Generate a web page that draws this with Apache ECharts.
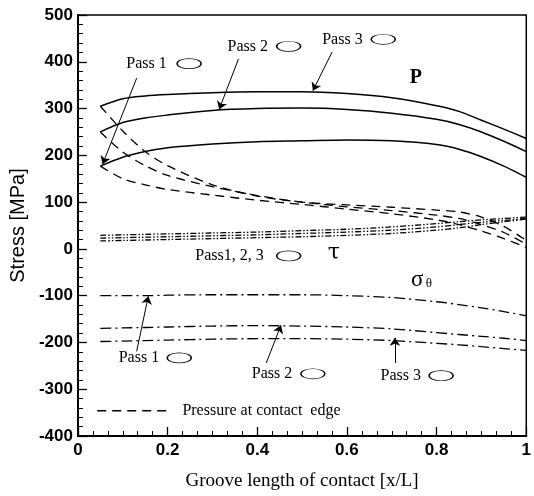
<!DOCTYPE html>
<html>
<head>
<meta charset="utf-8">
<script src="https://cdn.jsdelivr.net/npm/echarts@6/dist/echarts.min.js"></script>
<style>
  html, body { margin: 0; padding: 0; background: #fff; }
  #chart { width: 534px; height: 496px; }
</style>
</head>
<body>
<div id="chart"></div>
<script>
// groove position x/L, shared by every curve
const xPos = [0.05, 0.1, 0.15, 0.2, 0.3, 0.4, 0.5, 0.6, 0.7, 0.8, 0.85, 0.9, 0.95, 1.0]

// contact pressure P (solid)
const pPass1 = [177, 196, 208, 216, 224, 229, 231, 233, 231, 223, 213, 197, 177, 153]
const pPass2 = [250, 270, 280, 286, 296, 300, 301, 298, 290, 277, 266, 250, 230, 208]
const pPass3 = [305, 321, 327, 330, 334, 336, 336, 332, 323, 306, 294, 275, 256, 236]

// pressure at contact edge (dashed)
const edge1 = [177, 150, 137, 127, 115, 104, 95, 85, 75, 62, 52, 38, 22, 3]
const edge2 = [250, 207, 178, 157, 133, 114, 100, 90, 82, 72, 65, 52, 35, 10]
const edge3 = [305, 252, 208, 178, 137, 113, 100, 94, 89, 83, 79, 68, 48, 18]

// shear stress tau (dash-dot-dot)
const tau1 = [17, 18, 19, 20, 22, 24, 26, 29, 33, 40, 45, 52, 58, 64]
const tau2 = [23, 24, 25, 26, 28, 30, 33, 36, 40, 47, 52, 57, 61, 65]
const tau3 = [29, 30, 31, 32, 34, 36, 39, 42, 47, 54, 58, 62, 65, 68]

// hoop stress sigma_theta (dash-dot)
const sig1 = [-100, -100, -100, -99, -98, -98, -98, -100, -104, -113, -119, -126, -134, -143]
const sig2 = [-170, -169, -168, -167, -165, -164, -165, -167, -171, -179, -183, -187, -191, -196]
const sig3 = [-198, -197, -196, -195, -193, -192, -192, -193, -196, -202, -205, -209, -213, -217]

// annotation texts [text, x, y]
const labels = [
  ['Pass 1', 0.153, 396], ['Pass 2', 0.379, 431], ['Pass 3', 0.59, 448],
  ['Pass1, 2, 3', 0.338, -15],
  ['Pass 1', 0.136, -233], ['Pass 2', 0.433, -267], ['Pass 3', 0.72, -271],
]
// little ellipses next to the labels [x, y]
const ovals = [
  [0.248, 396], [0.47, 433], [0.681, 448], [0.47, -15],
  [0.226, -233], [0.524, -267], [0.81, -271],
]
// arrows [x1, y1, x2, y2]
const arrows = [
  [0.131, 365, 0.055, 181],
  [0.358, 406, 0.315, 298],
  [0.567, 421, 0.524, 338],
  [0.131, -219, 0.157, -101],
  [0.42, -244, 0.453, -163],
  [0.707, -244, 0.707, -190],
]

const pair = (ys) => xPos.map((x, i) => [x, ys[i]])
const serif = '"Liberation Serif", "Times New Roman", serif'
const sans = '"Liberation Sans", Arial, sans-serif'

const chart = echarts.init(document.getElementById('chart'))

const mkLine = (name, ys, dash, width) => ({
  name,
  type: 'line',
  data: pair(ys),
  smooth: 0.3,
  showSymbol: false,
  silent: true,
  lineStyle: { color: '#000', width: width || 1.3, type: dash },
})

const series = [
  mkLine('P1', pPass1, 'solid', 1.5),
  mkLine('P2', pPass2, 'solid', 1.5),
  mkLine('P3', pPass3, 'solid', 1.5),
  mkLine('E1', edge1, [9, 6]),
  mkLine('E2', edge2, [9, 6]),
  mkLine('E3', edge3, [9, 6]),
  mkLine('T1', tau1, [6, 2, 1.5, 2, 1.5, 2]),
  mkLine('T2', tau2, [6, 2, 1.5, 2, 1.5, 2]),
  mkLine('T3', tau3, [6, 2, 1.5, 2, 1.5, 2]),
  mkLine('S1', sig1, [11, 4, 2, 4]),
  mkLine('S2', sig2, [11, 4, 2, 4]),
  mkLine('S3', sig3, [11, 4, 2, 4]),
]

// arrows hang off the first series as a markLine
series[0].markLine = {
  silent: true,
  symbol: ['none', 'arrow'],
  symbolSize: 8,
  label: { show: false },
  lineStyle: { color: '#000', width: 1, type: 'solid' },
  data: arrows.map((a) => [{ coord: [a[0], a[1]] }, { coord: [a[2], a[3]] }]),
}

chart.setOption({
  animation: false,
  grid: {
    left: 67, right: 3, top: 15, bottom: 50,
    show: true, borderColor: '#000', borderWidth: 1.5,
  },
  xAxis: {
    type: 'value', min: 0, max: 1, interval: 0.2,
    name: 'Groove length of contact [x/L]',
    nameLocation: 'middle', nameGap: 36,
    nameTextStyle: { fontFamily: serif, fontSize: 19, color: '#000' },
    axisLine: { onZero: false, lineStyle: { color: '#000', width: 2 } },
    axisTick: { inside: true, length: 9, lineStyle: { color: '#000', width: 1.3 } },
    minorTick: { show: true, splitNumber: 6, length: 5, lineStyle: { color: '#000', width: 1 } },
    axisLabel: { fontFamily: sans, fontSize: 17, fontWeight: 'bold', color: '#000', margin: 6 },
    splitLine: { show: false },
  },
  yAxis: {
    type: 'value', min: -400, max: 500, interval: 100,
    name: 'Stress [MPa]',
    nameLocation: 'middle', nameGap: 46,
    nameTextStyle: { fontFamily: sans, fontSize: 20, color: '#000' },
    axisLine: { onZero: false, lineStyle: { color: '#000', width: 2 } },
    axisTick: { inside: true, length: 9, lineStyle: { color: '#000', width: 1.3 } },
    minorTick: { show: true, splitNumber: 5, length: 5, lineStyle: { color: '#000', width: 1 } },
    axisLabel: { fontFamily: sans, fontSize: 17, fontWeight: 'bold', color: '#000', margin: 5 },
    splitLine: { show: false },
  },
  series,
})

// annotations placed in data coordinates
const px = (x, y) => chart.convertToPixel({ gridIndex: 0 }, [x, y])
const txt = (s, p, font, align) => ({
  type: 'text', x: p[0], y: p[1], silent: true,
  style: { text: s, font, fill: '#000', align: align || 'center', verticalAlign: 'middle' },
})

const graphics = []
labels.forEach((l) => graphics.push(txt(l[0], px(l[1], l[2]), '16px ' + serif)))
ovals.forEach((o) => {
  const p = px(o[0], o[1])
  graphics.push({
    type: 'circle', x: p[0], y: p[1], scaleY: 0.42, silent: true,
    shape: { cx: 0, cy: 0, r: 12 },
    style: { fill: 'none', stroke: '#000', lineWidth: 1.5, strokeNoScale: true },
  })
})
graphics.push(txt('P', px(0.754, 365), 'bold 20px ' + serif))
graphics.push(txt('τ', px(0.571, -10), '22px "DejaVu Serif", serif'))
graphics.push(txt('σ', px(0.757, -66), '23px ' + serif))
graphics.push(txt('θ', px(0.783, -74), '13px ' + serif))

// legend for the dashed pressure lines
const l0 = px(0.043, -346)
const l1 = px(0.2, -346)
graphics.push({
  type: 'line', silent: true,
  shape: { x1: l0[0], y1: l0[1], x2: l1[0], y2: l1[1] },
  style: { stroke: '#000', lineWidth: 1.3, lineDash: [9, 6] },
})
graphics.push(txt('Pressure at contact  edge', px(0.233, -346), '16px ' + serif, 'left'))

chart.setOption({ graphic: graphics })
</script>
</body>
</html>
